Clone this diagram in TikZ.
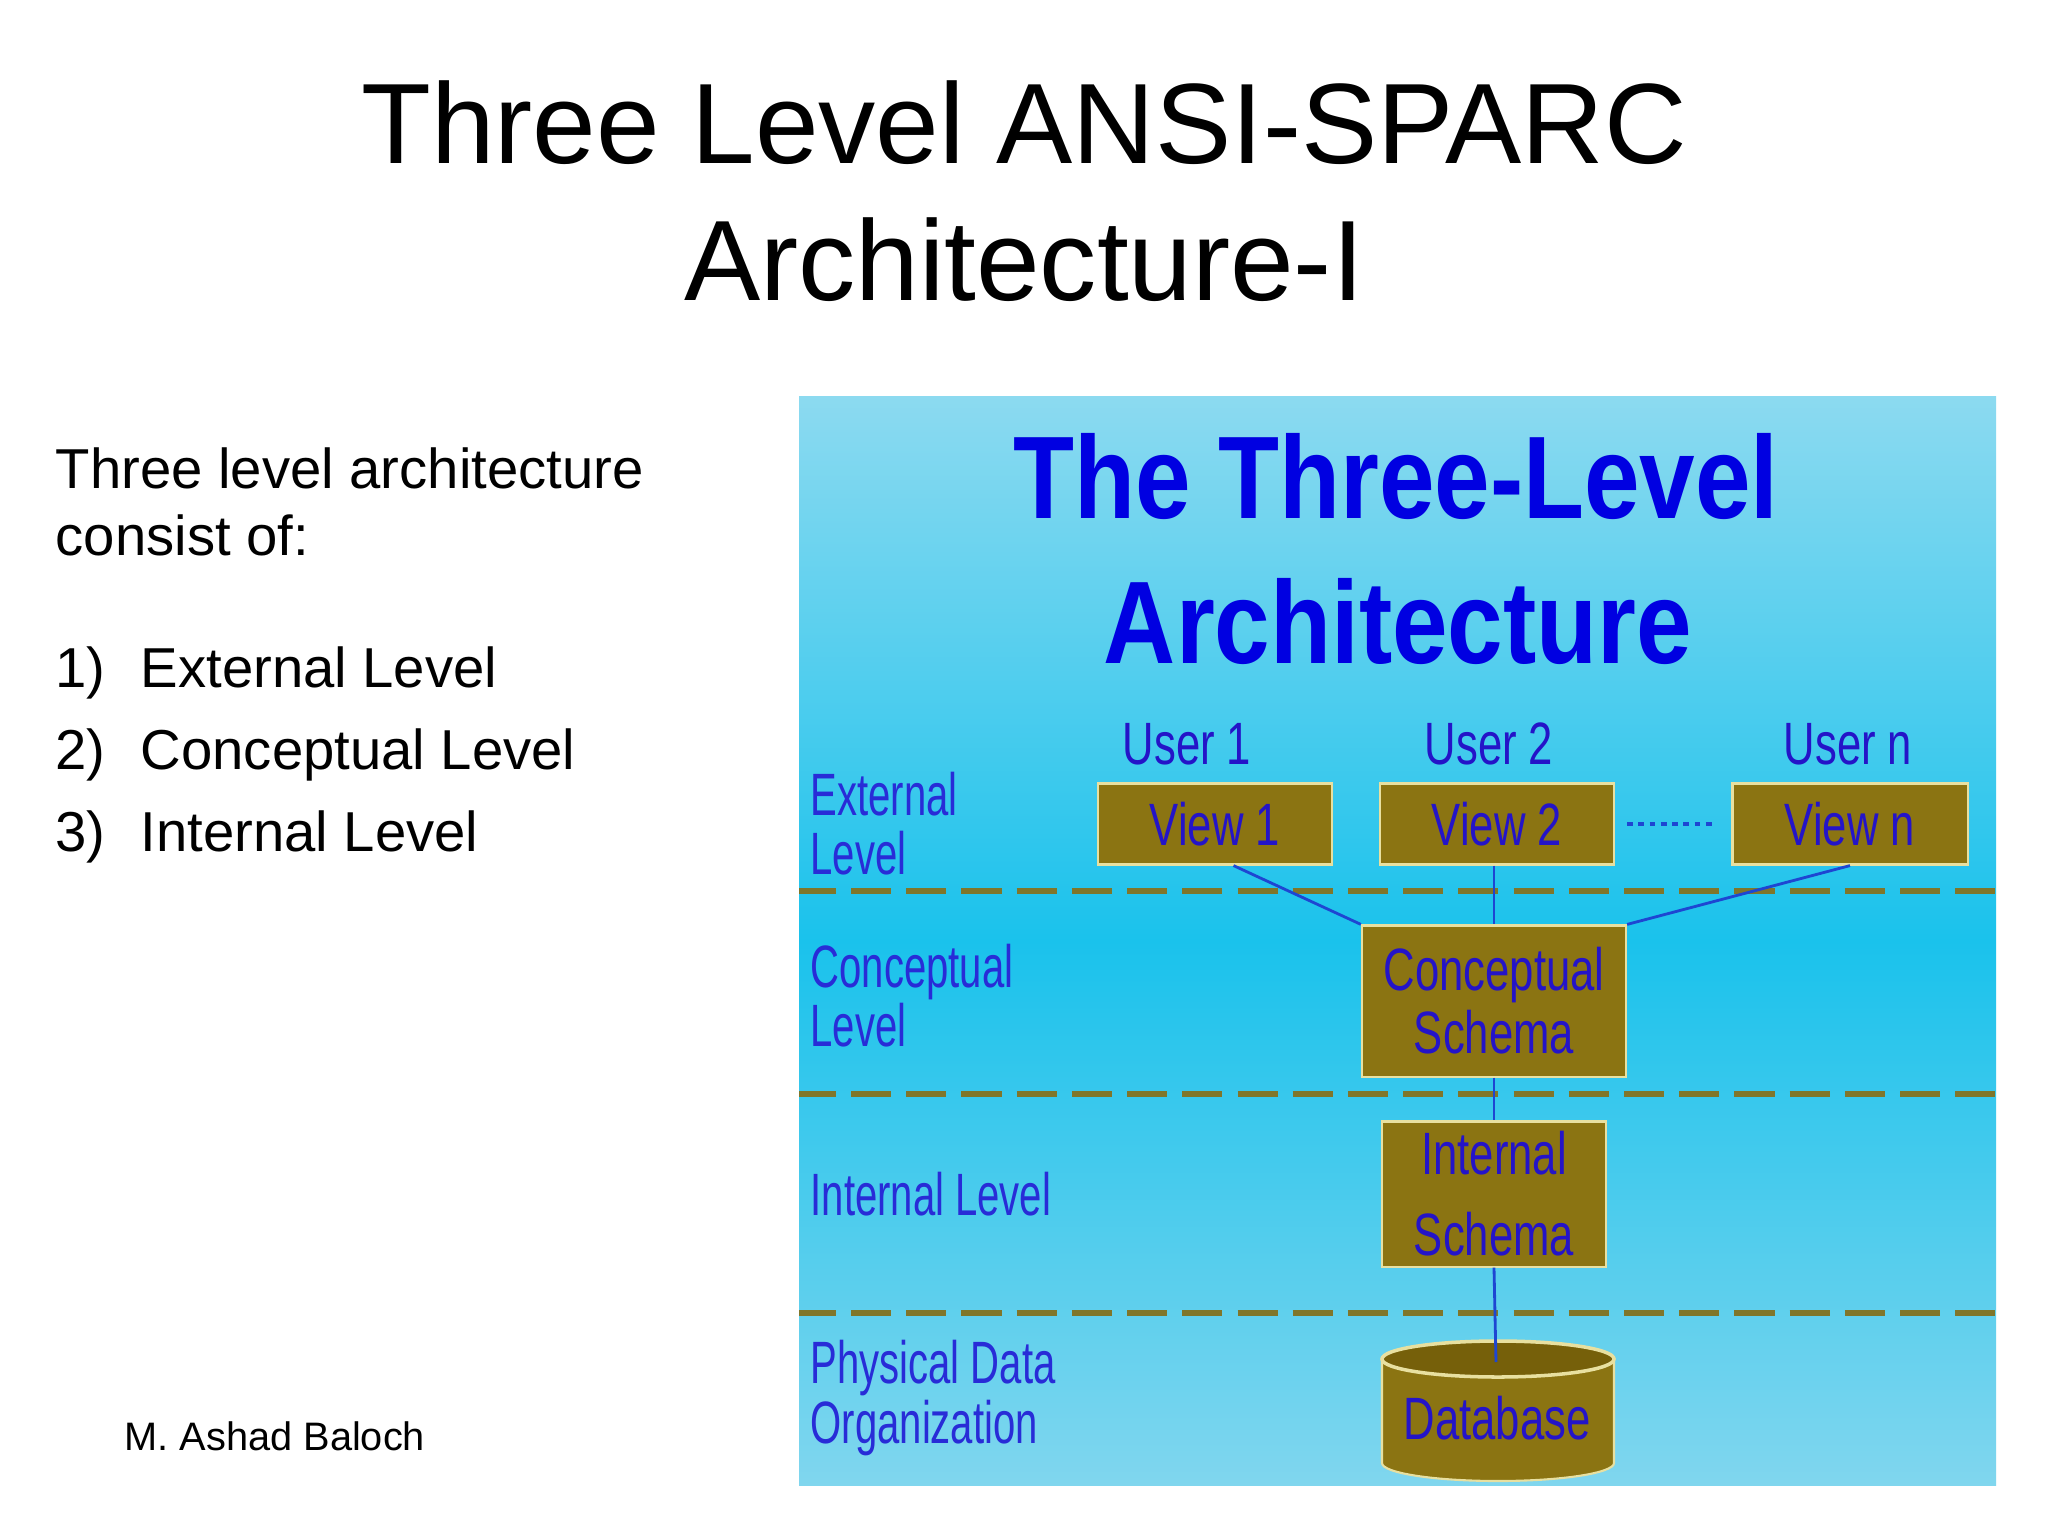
\documentclass[tikz,border=0pt]{standalone}
\usepackage{fontspec}
\setmainfont{Liberation Sans}
\newfontfamily\narrowsf[FakeStretch=0.73]{Liberation Sans}
\newfontfamily\labelsf[FakeStretch=0.67]{Liberation Sans}
\newfontfamily\headsf[FakeStretch=0.85]{Liberation Sans}
\definecolor{panelTop}{RGB}{140,218,240}
\definecolor{panelMid}{RGB}{26,194,236}
\definecolor{panelBot}{RGB}{128,214,238}
\definecolor{boxolive}{RGB}{139,116,18}
\definecolor{lidolive}{RGB}{118,96,10}
\definecolor{creamline}{RGB}{232,224,160}
\definecolor{dashcol}{RGB}{128,118,42}
\definecolor{headblue}{RGB}{0,0,225}
\definecolor{txtblue}{RGB}{36,20,200}
\definecolor{lblblue}{RGB}{40,44,215}
\definecolor{linkblue}{RGB}{30,70,210}
\begin{document}
\begin{tikzpicture}[x=0.01cm, y=-0.01cm,
    slidetitle/.style = {font=\fontsize{32.5}{36}\selectfont,
                         anchor=base, inner sep=0pt},
    slidetext/.style  = {font=\fontsize{16}{18}\selectfont,
                         anchor=base west, inner sep=0pt},
    panelhead/.style  = {font=\headsf\bfseries\fontsize{33.4}{36}\selectfont,
                         text=headblue, anchor=base, inner sep=0pt},
    userlabel/.style  = {font=\narrowsf\fontsize{17}{17}\selectfont,
                         text=txtblue, anchor=base, inner sep=0pt},
    levellabel/.style = {font=\labelsf\fontsize{17}{16.8}\selectfont,
                         text=lblblue, align=left, anchor=west, inner sep=0pt},
    schemabox/.style  = {draw=creamline, line width=0.6pt, fill=boxolive,
                         text=txtblue, align=center, inner sep=0pt,
                         font=\narrowsf\fontsize{17}{17.9}\selectfont},
    levelsep/.style   = {draw=dashcol, line width=1.6pt,
                         dash pattern=on 11.4pt off 4.3pt, dash phase=0.9pt},
    link/.style       = {draw=linkblue, line width=0.8pt}]
    \useasboundingbox (0,0) rectangle (2048,1536);
    \fill[white] (0,0) rectangle (2048,1536);

    % slide title
    \node[slidetitle] (title1) at (1024,163) {Three Level ANSI-SPARC};
    \node[slidetitle] (title2) at (1024,300) {Architecture-I};

    % left column
    \node[slidetext] (intro1) at (55,488) {Three level architecture};
    \node[slidetext] (intro2) at (55,555) {consist of:};
    \node[slidetext] (num1) at (55,687) {1)};
    \node[slidetext] (item1) at (140,687) {External Level};
    \node[slidetext] (num2) at (55,769) {2)};
    \node[slidetext] (item2) at (140,769) {Conceptual Level};
    \node[slidetext] (num3) at (55,851) {3)};
    \node[slidetext] (item3) at (140,851) {Internal Level};
    \node[slidetext, font=\fontsize{11.3}{13}\selectfont] (author) at (124,1450) {M. Ashad Baloch};

    % picture panel
    \shade[top color=panelTop, bottom color=panelBot, middle color=panelMid]
        (799,396) rectangle (1996,1485);
    \node[panelhead] (head1) at (1396,518) {The Three-Level};
    \node[panelhead] (head2) at (1398,663) {Architecture};

    % level separators
    \draw[levelsep] (799,891) -- (1996,891);
    \draw[levelsep] (799,1094) -- (1996,1094);
    \draw[levelsep] (799,1313) -- (1996,1313);

    % level names
    \node[levellabel] (extlbl) at (810,824) {External\\Level};
    \node[levellabel] (conlbl) at (810,996) {Conceptual\\Level};
    \node[levellabel] (intlbl) at (810,1194) {Internal Level};
    \node[levellabel] (phylbl) at (810,1398) {Physical Data\\Organization};

    % users and views
    \node[userlabel] (user1) at (1187,764) {User 1};
    \node[userlabel] (user2) at (1489,764) {User 2};
    \node[userlabel] (usern) at (1848,764) {User n};
    \node[schemabox, minimum width=2.34cm, minimum height=0.81cm] (view1) at (1215,824) {View 1};
    \node[schemabox, minimum width=2.34cm, minimum height=0.81cm] (view2) at (1497,824) {View 2};
    \node[schemabox, minimum width=2.35cm, minimum height=0.81cm] (viewn) at (1850,824) {View n};

    % schemas
    \node[schemabox, minimum width=2.64cm, minimum height=1.51cm] (concept) at (1494,1001) {Conceptual\\Schema};
    \node[schemabox, minimum width=2.24cm, minimum height=1.45cm,
          font=\narrowsf\fontsize{17}{23}\selectfont] (internal) at (1494,1194) {Internal\\Schema};

    % database drum
    \filldraw[fill=boxolive, draw=creamline, line width=0.6pt]
        (1382,1359) -- (1382,1463) arc (180:0:116 and 18) -- (1614,1359) -- cycle;
    \filldraw[fill=lidolive, draw=creamline, line width=1pt] (1498,1359) ellipse (116 and 18);
    \coordinate (dbtop) at (1496,1362);
    \node[userlabel] (db) at (1497,1439) {Database};

    % mappings
    \path[link] (view1.-66) edge (concept.north west);
    \path[link] (view2.south -| concept.north) edge (concept.north);
    \path[link] (viewn.south) edge (concept.north east);
    \path[link] (concept.south) edge (internal.north);
    \path[link] (internal.south) edge (dbtop);
    \draw[link, line width=1pt, dash pattern=on 1.6pt off 1.6pt,
          shorten <=0.12cm, shorten >=0.16cm] (view2) -- (viewn);
\end{tikzpicture}
\end{document}
